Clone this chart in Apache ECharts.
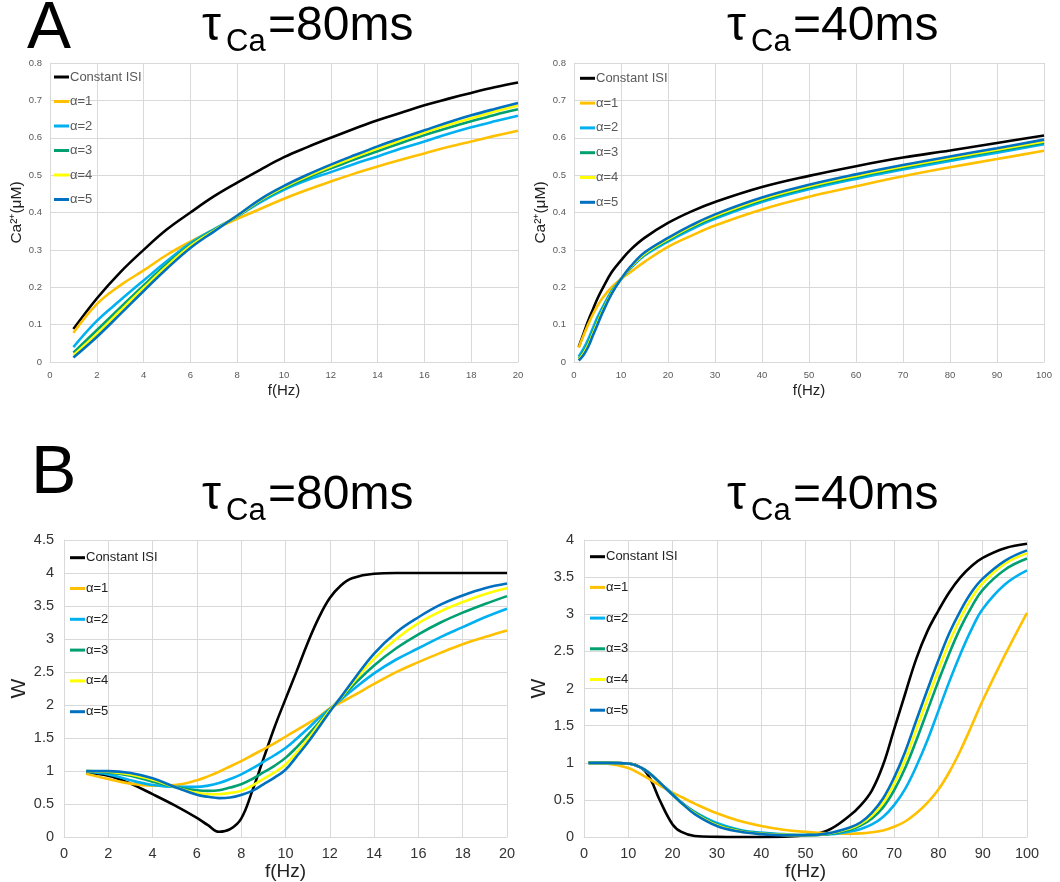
<!DOCTYPE html>
<html><head><meta charset="utf-8">
<script src="https://cdn.jsdelivr.net/npm/echarts@6/dist/echarts.min.js"></script>
<style>html,body{margin:0;padding:0;background:#fff}#c{width:1060px;height:882px}</style>
</head><body><div id="c"></div>
<script>
var seriesNames = ['Constant ISI','α=1','α=2','α=3','α=4','α=5'];
var seriesColors = ['#000000','#FFC000','#00B0F0','#00A070','#FFFF00','#0070C0'];

// Panel A, tauCa = 80 ms : Ca2+ (uM) vs f (Hz)
var fA80 = [1,2,3,4,5,6,7,8,9,10,11,12,13,14,15,16,17,18,19,20];
var caA80_const = [0.088,0.17,0.24,0.30,0.355,0.40,0.443,0.48,0.515,0.548,0.575,0.60,0.624,0.647,0.667,0.687,0.704,0.72,0.735,0.748];
var caA80_a1 = [0.078,0.155,0.205,0.245,0.287,0.322,0.354,0.383,0.41,0.437,0.461,0.483,0.504,0.523,0.541,0.558,0.575,0.59,0.605,0.619];
var caA80_a2 = [0.04,0.11,0.165,0.218,0.27,0.318,0.355,0.389,0.428,0.461,0.487,0.508,0.53,0.55,0.571,0.59,0.61,0.628,0.644,0.659];
var caA80_a3 = [0.025,0.085,0.145,0.205,0.262,0.313,0.353,0.39,0.432,0.465,0.493,0.518,0.542,0.564,0.586,0.607,0.626,0.644,0.661,0.676];
var caA80_a4 = [0.018,0.075,0.137,0.198,0.257,0.31,0.351,0.391,0.434,0.468,0.497,0.523,0.548,0.571,0.593,0.614,0.634,0.652,0.67,0.686];
var caA80_a5 = [0.012,0.067,0.128,0.19,0.25,0.305,0.349,0.392,0.436,0.471,0.501,0.528,0.553,0.577,0.599,0.62,0.641,0.66,0.677,0.693];

// Panel A, tauCa = 40 ms
var fA40 = [1,2,3,4,5,6,8,10,12,15,20,25,30,40,50,60,70,80,90,100];
var caA40_const = [0.04,0.075,0.11,0.14,0.17,0.195,0.24,0.272,0.3,0.332,0.372,0.403,0.428,0.468,0.498,0.524,0.547,0.566,0.586,0.606];
var caA40_a1 = [0.038,0.07,0.1,0.127,0.15,0.17,0.2,0.222,0.24,0.268,0.308,0.338,0.365,0.408,0.442,0.47,0.497,0.521,0.543,0.565];
var caA40_a2 = [0.015,0.035,0.06,0.09,0.12,0.145,0.19,0.222,0.25,0.285,0.322,0.355,0.383,0.428,0.462,0.49,0.515,0.538,0.56,0.583];
var caA40_a3 = [0.01,0.026,0.05,0.08,0.11,0.138,0.186,0.222,0.252,0.288,0.326,0.36,0.388,0.433,0.467,0.495,0.52,0.543,0.565,0.587];
var caA40_a4 = [0.007,0.022,0.045,0.075,0.105,0.134,0.184,0.222,0.253,0.29,0.329,0.363,0.391,0.436,0.47,0.498,0.523,0.546,0.568,0.59];
var caA40_a5 = [0.004,0.018,0.04,0.07,0.1,0.13,0.182,0.222,0.255,0.293,0.332,0.366,0.395,0.44,0.474,0.502,0.527,0.55,0.572,0.595];

// Panel B, tauCa = 80 ms : W vs f (Hz)
var fB80 = [1,2,3,4,5,6,6.5,7,7.5,8,8.5,9,9.5,10,10.5,11,11.5,12,12.5,13,14,15,16,17,18,19,20];
var wB80_const = [0.97,0.93,0.81,0.65,0.48,0.29,0.18,0.08,0.12,0.28,0.70,1.18,1.66,2.09,2.51,2.94,3.32,3.62,3.81,3.92,3.99,4.0,4.0,4.0,4.0,4.0,4.0];
var wB80_a1 = [0.96,0.88,0.81,0.78,0.79,0.86,0.92,0.99,1.07,1.15,1.24,1.33,1.42,1.52,1.62,1.72,1.82,1.95,2.04,2.13,2.32,2.50,2.65,2.79,2.92,3.03,3.13];
var wB80_a2 = [0.99,0.95,0.86,0.79,0.76,0.76,0.78,0.82,0.88,0.95,1.04,1.14,1.24,1.35,1.49,1.64,1.80,1.94,2.08,2.22,2.48,2.69,2.86,3.03,3.18,3.33,3.46];
var wB80_a3 = [1.0,0.98,0.93,0.84,0.76,0.71,0.70,0.71,0.75,0.80,0.88,0.98,1.08,1.20,1.36,1.54,1.73,1.93,2.10,2.28,2.60,2.86,3.07,3.25,3.40,3.53,3.65];
var wB80_a4 = [1.0,0.99,0.95,0.87,0.76,0.67,0.65,0.65,0.67,0.70,0.78,0.88,0.98,1.10,1.28,1.48,1.70,1.92,2.11,2.32,2.70,3.0,3.24,3.42,3.56,3.68,3.77];
var wB80_a5 = [1.0,1.0,0.97,0.89,0.76,0.64,0.61,0.59,0.60,0.64,0.70,0.80,0.90,1.02,1.22,1.43,1.66,1.90,2.12,2.35,2.78,3.10,3.33,3.52,3.66,3.77,3.84];

// Panel B, tauCa = 40 ms
var fB40 = [1,5,10,13,15,17,20,22,25,30,35,40,45,50,55,60,62.5,65,67.5,70,72.5,75,77.5,80,82.5,85,87.5,90,95,100];
var wB40_const = [1.0,1.0,0.99,0.93,0.78,0.51,0.17,0.07,0.015,0.003,0.0,0.0,0.005,0.025,0.09,0.29,0.43,0.63,0.97,1.45,1.93,2.4,2.77,3.05,3.3,3.5,3.65,3.76,3.89,3.95];
var wB40_a1 = [1.0,0.99,0.93,0.84,0.77,0.70,0.60,0.54,0.45,0.32,0.22,0.15,0.10,0.07,0.05,0.045,0.05,0.065,0.09,0.14,0.21,0.32,0.46,0.64,0.88,1.17,1.5,1.84,2.45,3.02];
var wB40_a2 = [1.0,1.0,0.99,0.93,0.85,0.74,0.58,0.47,0.34,0.19,0.1,0.06,0.04,0.03,0.035,0.075,0.11,0.17,0.27,0.43,0.65,0.95,1.3,1.7,2.1,2.47,2.8,3.07,3.4,3.59];
var wB40_a3 = [1.0,1.0,0.99,0.93,0.85,0.74,0.57,0.46,0.33,0.17,0.09,0.05,0.03,0.025,0.04,0.1,0.16,0.25,0.4,0.63,0.93,1.3,1.7,2.1,2.48,2.82,3.1,3.33,3.6,3.75];
var wB40_a4 = [1.0,1.0,0.99,0.93,0.85,0.74,0.57,0.46,0.32,0.16,0.08,0.045,0.03,0.025,0.045,0.115,0.18,0.29,0.46,0.72,1.04,1.45,1.85,2.25,2.63,2.95,3.22,3.42,3.68,3.82];
var wB40_a5 = [1.0,1.0,0.99,0.93,0.85,0.74,0.57,0.46,0.31,0.15,0.075,0.04,0.025,0.025,0.05,0.13,0.2,0.33,0.52,0.8,1.15,1.57,1.98,2.38,2.75,3.05,3.3,3.48,3.72,3.86];

var panels = [
  {x: fA80, ys: [caA80_const,caA80_a1,caA80_a2,caA80_a3,caA80_a4,caA80_a5]},
  {x: fA40, ys: [caA40_const,caA40_a1,caA40_a2,caA40_a3,caA40_a4,caA40_a5]},
  {x: fB80, ys: [wB80_const,wB80_a1,wB80_a2,wB80_a3,wB80_a4,wB80_a5]},
  {x: fB40, ys: [wB40_const,wB40_a1,wB40_a2,wB40_a3,wB40_a4,wB40_a5]}
];

var FONT = 'Liberation Sans';
var gridLine = '#d9d9d9';

function zip(xs, ys){ return xs.map(function(v,i){ return [v, ys[i]]; }); }

var series = [];
panels.forEach(function(p, pi){
  p.ys.forEach(function(ys, si){
    series.push({
      name: seriesNames[si], type: 'line', xAxisIndex: pi, yAxisIndex: pi,
      data: zip(p.x, ys), showSymbol: false, symbol: 'none',
      smooth: 0.4,
      lineStyle: {color: seriesColors[si], width: 2.6},
      itemStyle: {color: seriesColors[si]},
      emphasis: {disabled: true}, animation: false, z: 2 + si
    });
  });
});

function xAx(gi, max, interval, small){
  return {
    type: 'value', gridIndex: gi, min: 0, max: max, interval: interval,
    name: 'f(Hz)', nameLocation: 'middle', nameGap: small ? 21 : 17,
    nameTextStyle: {fontFamily: FONT, fontSize: small ? 15 : 19, color: '#222'},
    axisLine: {show: true, lineStyle: {color: gridLine, width: 1}},
    axisTick: {show: false},
    axisLabel: {fontFamily: FONT, fontSize: small ? 9.5 : 14.5, color: small ? '#595959' : '#333', margin: small ? 8 : 9},
    splitLine: {show: true, lineStyle: {color: gridLine, width: 1}}
  };
}
function yAx(gi, max, interval, name, gap, small){
  return {
    type: 'value', gridIndex: gi, min: 0, max: max, interval: interval,
    name: name, nameLocation: 'middle', nameGap: gap, nameRotate: 90,
    nameTextStyle: {fontFamily: FONT, fontSize: small ? 15.5 : 21, color: '#222'},
    axisLine: {show: true, lineStyle: {color: gridLine, width: 1}},
    axisTick: {show: false},
    axisLabel: {fontFamily: FONT, fontSize: small ? 9.5 : 14.5, color: small ? '#595959' : '#333', margin: small ? 8 : 10},
    splitLine: {show: true, lineStyle: {color: gridLine, width: 1}}
  };
}
function leg(left, top, gap, color){
  return {
    orient: 'vertical', left: left, top: top, itemGap: gap, padding: 0,
    itemWidth: 15, itemHeight: 3, icon: 'rect', selectedMode: false,
    data: seriesNames,
    textStyle: {fontFamily: FONT, fontSize: 13, color: color, padding: [0,0,0,-4]}
  };
}
function titleTexts(x, baseY, subBaseY, num){
  return [
    {type: 'text', left: x, top: baseY - 35, style: {text: 'τ', font: '48px "Liberation Sans"', fill: '#000'}},
    {type: 'text', left: x + 24, top: subBaseY - 23, style: {text: 'Ca', font: '31px "Liberation Sans"', fill: '#000'}},
    {type: 'text', left: x + 66, top: baseY - 35, style: {text: '=' + num + 'ms', font: '48px "Liberation Sans"', fill: '#000'}}
  ];
}

var option = {
  backgroundColor: '#ffffff',
  animation: false,
  grid: [
    {left: 50, top: 63, width: 468, height: 299},
    {left: 574, top: 63, width: 470, height: 299},
    {left: 64, top: 540, width: 443, height: 298},
    {left: 584, top: 540, width: 443, height: 298}
  ],
  xAxis: [xAx(0, 20, 2, true), xAx(1, 100, 10, true), xAx(2, 20, 2, false), xAx(3, 100, 10, false)],
  yAxis: [
    yAx(0, 0.8, 0.1, 'Ca²⁺(μM)', 23, true),
    yAx(1, 0.8, 0.1, 'Ca²⁺(μM)', 18, true),
    yAx(2, 4.5, 0.5, 'W', 26, false),
    yAx(3, 4, 0.5, 'W', 27, false)
  ],
  legend: [
    leg(54, 70.5, 11.5, '#595959'),
    leg(580, 71.8, 11.8, '#595959'),
    leg(70, 551.2, 17.8, '#222'),
    leg(590, 550.2, 17.7, '#222')
  ],
  graphic: [
    {type: 'text', left: 27, top: -3, style: {text: 'A', font: '66px "Liberation Sans"', fill: '#000'}},
    {type: 'text', left: 31, top: 440, style: {text: 'B', font: '68px "Liberation Sans"', fill: '#000'}}
  ].concat(titleTexts(202, 38, 50, '80'), titleTexts(727, 38, 50, '40'),
           titleTexts(202, 507, 519, '80'), titleTexts(727, 507, 519, '40')),
  series: series
};

var chart = echarts.init(document.getElementById('c'), null, {renderer: 'canvas'});
chart.setOption(option);
</script>
</body></html>
